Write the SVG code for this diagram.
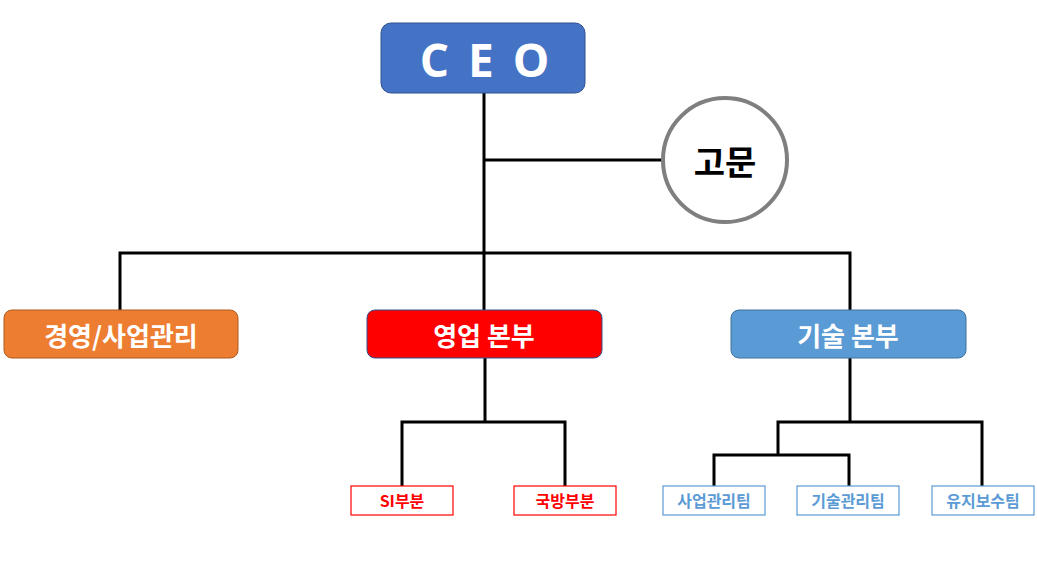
<svg xmlns="http://www.w3.org/2000/svg" width="1037" height="566" viewBox="0 0 1037 566">
<style>
text{font-family:"Noto Sans CJK KR","Noto Sans",sans-serif;font-weight:bold;text-anchor:middle;dominant-baseline:central}
.ln{stroke:#000;stroke-width:3;fill:none}
.big{font-size:26px;fill:#fff}
.sm{font-size:16px}
</style>
<rect width="1037" height="566" fill="#fff"/>
<g id="connectors">
<path class="ln" d="M484 93V310M484 160H663M120 310V253H850V310"/>
<path class="ln" d="M485 358V422M402 486V422H565V486"/>
<path class="ln" d="M850 358V422M778 455V422H982V486M714 486V455H849V486"/>
</g>
<g id="ceo"><rect x="381" y="23" width="204" height="70" rx="10" fill="#4472C4" stroke="#2F528F" stroke-width="1"/>
<text x="484" y="59" style="font-size:46px;fill:#fff;letter-spacing:19px;font-family:'Open Sans','Noto Sans',sans-serif" dx="10">CEO</text></g>
<g id="advisor"><circle cx="725" cy="160" r="62" fill="#fff" stroke="#7F7F7F" stroke-width="4"/>
<text x="725" y="160" style="font-size:34px;fill:#000">고문</text></g>
<g id="mgmt"><rect x="4" y="310" width="234" height="48" rx="8" fill="#ED7D31" stroke="#AE5A21"/>
<text class="big" x="121" y="334">경영/사업관리</text></g>
<g id="sales"><rect x="367" y="310" width="235" height="48" rx="8" fill="#FF0000" stroke="#2F528F"/>
<text class="big" x="484" y="334">영업 본부</text></g>
<g id="tech"><rect x="731" y="310" width="235" height="48" rx="8" fill="#5B9BD5" stroke="#41719C"/>
<text class="big" x="848" y="334">기술 본부</text></g>
<g id="si"><rect x="351" y="486" width="102" height="29" fill="#fff" stroke="#FF0000" stroke-width="1.2"/>
<text class="sm" x="402" y="500" fill="#FF0000">SI부분</text></g>
<g id="defense"><rect x="514" y="486" width="102" height="29" fill="#fff" stroke="#FF0000" stroke-width="1.2"/>
<text class="sm" x="565" y="500" fill="#FF0000">국방부분</text></g>
<g id="biz"><rect x="663" y="486" width="102" height="29" fill="#fff" stroke="#5B9BD5" stroke-width="1.2"/>
<text class="sm" x="714" y="500" fill="#5B9BD5">사업관리팀</text></g>
<g id="techmgmt"><rect x="797" y="486" width="102" height="29" fill="#fff" stroke="#5B9BD5" stroke-width="1.2"/>
<text class="sm" x="848" y="500" fill="#5B9BD5">기술관리팀</text></g>
<g id="maint"><rect x="932" y="486" width="102" height="29" fill="#fff" stroke="#5B9BD5" stroke-width="1.2"/>
<text class="sm" x="983" y="500" fill="#5B9BD5">유지보수팀</text></g>
</svg>
